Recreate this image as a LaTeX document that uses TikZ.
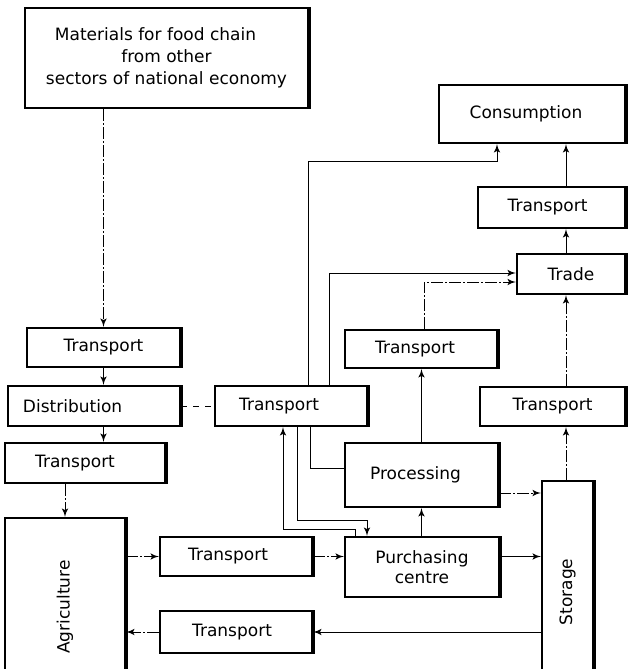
\documentclass[tikz,border=0pt]{standalone}
\usepackage{fontspec}
\setmainfont{DejaVu Sans}
\usetikzlibrary{arrows,calc}

\begin{document}
\begin{tikzpicture}[x=0.5pt,y=-0.5pt]
\tikzset{block/.style = {shape=rectangle,draw,line width=1pt,inner sep=0pt,font=\fontsize{8.5}{11}\selectfont,
  append after command={(\tikzlastnode.north east) edge[-,line width=1.8pt] (\tikzlastnode.south east)}}}
\tikzset{tag/.style = {inner sep=0pt,font=\fontsize{8.5}{11}\selectfont}}
\tikzset{edge/.style = {->,> = latex',line width=0.5pt}}
\tikzset{faint/.style = {dash pattern=on 6pt off 1.2pt on 0.6pt off 1.2pt}}
\useasboundingbox (0,0) rectangle (627,669);

\node[block,minimum width=141.5pt,minimum height=50pt,align=center] (mat) at (166.5,58) {Materials for food chain\hspace{11pt}\mbox{}\\ from other\\ sectors of national economy};
\node[block,minimum width=76.5pt,minimum height=19.5pt] (tr1) at (103.5,347.5) {Transport};
\node[block,minimum width=86pt,minimum height=20pt,text width=71pt,inner xsep=7.5pt,align=left] (dist) at (94,406) {Distribution};
\node[block,minimum width=80pt,minimum height=20pt] (tr2) at (85,463) {Transport\hspace{10pt}\mbox{}};
\node[block,minimum width=60pt,minimum height=89pt] (agri) at (65,607) {};
\node[tag,rotate=90] (agrit) at (agri.center) {Agriculture};
\node[block,minimum width=76pt,minimum height=19.5pt] (trA) at (236,556.5) {Transport\hspace{8pt}\mbox{}};
\node[block,minimum width=76pt,minimum height=21pt] (trB) at (236,632) {Transport\hspace{4pt}\mbox{}};
\node[block,minimum width=77pt,minimum height=30pt,align=center] (purch) at (422,567) {Purchasing\\[-1pt] centre};
\node[block,minimum width=25.5pt,minimum height=111pt] (stor) at (567.5,592) {};
\node[tag,rotate=90] (stort) at (stor.center) {Storage};
\node[block,minimum width=76.5pt,minimum height=32pt] (proc) at (421.5,475) {Processing\hspace{6pt}\mbox{}};
\node[block,minimum width=76pt,minimum height=20pt] (trC) at (291,406) {Transport\hspace{12pt}\mbox{}};
\node[block,minimum width=76pt,minimum height=19pt] (trD) at (421,349) {Transport\hspace{6pt}\mbox{}};
\node[block,minimum width=72.5pt,minimum height=19.5pt] (trE) at (552.5,406.5) {Transport};
\node[block,minimum width=54pt,minimum height=20pt] (trade) at (571,274) {Trade};
\node[block,minimum width=73.5pt,minimum height=20.5pt] (trF) at (551.5,207.5) {Transport\hspace{4pt}\mbox{}};
\node[block,minimum width=93pt,minimum height=29pt] (cons) at (532,114) {Consumption\hspace{6pt}\mbox{}};

\draw[edge,faint] (mat.south -| tr1.north) -- (tr1.north);
\draw[edge] (tr1.south) -- (dist.north -| tr1.south);
\draw[edge] (dist.south -| tr1.south) -- (tr2.north -| tr1.south);
\draw[edge,faint] (tr2.south -| agri.north) -- (agri.north);
\draw[line width=0.5pt,dashed] (dist.east) -- (trC.west);
\draw[edge,faint] (agri.east |- trA.west) -- (trA.west);
\draw[edge,faint] (trA.east) -- (purch.west |- trA.east);
\draw[edge] (purch.east |- trA.east) -- (stor.west |- trA.east);
\draw[edge] (stor.west |- trB.east) -- (trB.east);
\draw[edge,faint] (trB.west) -- (agri.east |- trB.west);
\draw[edge] (purch.north -| proc.south) -- (proc.south);
\draw[edge] (proc.north) -- (trD.south -| proc.north);
\coordinate (ps) at (0,493);
\draw[edge,faint] (proc.east |- ps) -- (stor.west |- ps);
\coordinate (col) at (566,0);
\draw[edge,faint] (stor.north -| col) -- (trE.south -| col);
\draw[edge,faint] (trE.north -| col) -- (trade.south -| col);
\draw[edge] (trade.north -| col) -- (trF.south -| col);
\draw[edge] (trF.north -| col) -- (cons.south -| col);
\coordinate (ka) at (308,161);
\coordinate (kb) at (497,161);
\draw[edge] (trC.north -| ka) -- (ka) -- (kb) -- (cons.south -| kb);
\coordinate (kc) at (329,273);
\draw[edge] (trC.north -| kc) |- (trade.west |- kc);
\coordinate (kd) at (424,282);
\draw[edge,faint] (trD.north -| kd) |- (trade.west |- kd);
\coordinate (ke) at (310,468);
\draw[line width=0.5pt] (trC.south -| ke) |- (proc.west |- ke);
\coordinate (kf) at (297,520);
\coordinate (kg) at (367,520);
\draw[edge] (trC.south -| kf) -- (kf) -- (kg) -- (purch.north -| kg);
\coordinate (kh) at (355,529);
\coordinate (ki) at (283,529);
\draw[edge] (purch.north -| kh) -- (kh) -- (ki) -- (trC.south -| ki);

\end{tikzpicture}
\end{document}
